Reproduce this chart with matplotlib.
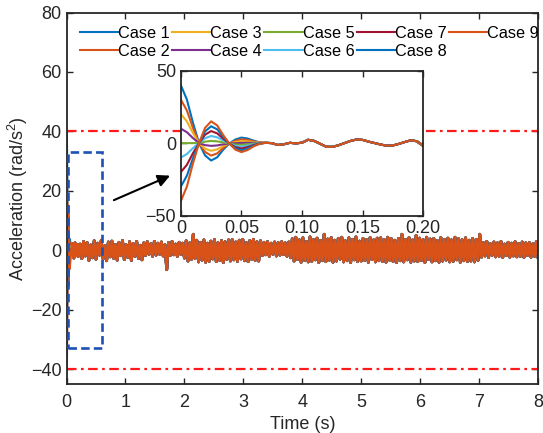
import numpy as np
import matplotlib
matplotlib.use("Agg")
import matplotlib.pyplot as plt
from matplotlib.patches import Rectangle

plt.rcParams['font.family'] = ['Liberation Sans', 'DejaVu Sans']
plt.rcParams['mathtext.fontset'] = 'custom'
plt.rcParams['mathtext.rm'] = 'Liberation Sans'
plt.rcParams['font.size'] = 13

# Cores padrão estilo MATLAB
cores = ['#0072BD', '#D95319', '#EDB120', '#7E2F8E', '#77AC30',
         '#4DBEEE', '#A2142F', '#0072BD', '#D95319']
nomes = ['Case %d' % i for i in range(1, 10)]

# Transitório (t = 0 ... 0.07 s, passo 0.005 s), um por caso
trans_1 = [40, 30, 14, 0, -8.5, -12, -9.8, -4.5, -0.3, 2.5, 3.8, 3.2, 1.7, 0.5, 0.2]
trans_2 = [30, 22.5, 10.5, 0, -6.1, -8.6, -7.1, -3.3, -0.3, 1.6, 2.6, 2.2, 1.2, 0.4, 0.2]
trans_3 = [20, 15, 7, 0, -3.8, -5.3, -4.3, -2, -0.3, 0.8, 1.3, 1.2, 0.7, 0.3, 0.2]
trans_4 = [10, 7.5, 3.5, 0, -1.4, -1.9, -1.6, -0.8, -0.3, -0.1, 0.1, 0.2, 0.2, 0.1, 0.2]
trans_5 = [0, 0, 0, 0, 1, 1.5, 1.2, 0.5, -0.3, -1, -1.2, -0.8, -0.3, 0, 0.2]
trans_6 = [-10, -7.5, -3.5, 0, 3.4, 4.9, 4, 1.8, -0.3, -1.9, -2.5, -1.8, -0.8, -0.1, 0.2]
trans_7 = [-20, -15, -7, 0, 5.8, 8.3, 6.7, 3, -0.3, -2.8, -3.7, -2.8, -1.3, -0.3, 0.2]
trans_8 = [-30, -22.5, -10.5, 0, 8.1, 11.6, 9.5, 4.3, -0.3, -3.6, -5, -3.8, -1.8, -0.4, 0.2]
trans_9 = [-40, -30, -14, 0, 10.5, 15, 12.2, 5.5, -0.3, -4.5, -6.2, -4.8, -2.3, -0.5, 0.2]
transitorios = [trans_1, trans_2, trans_3, trans_4, trans_5, trans_6, trans_7, trans_8, trans_9]

# Resposta comum depois da convergência (t = 0.075 ... 0.2 s, passo 0.005 s)
cauda = [0.0, -1.3, -0.8, 0.2, -0.2, 0.3, 2.3, 1.5, -0.5, -2.5, -2.6, -1.5, 0.0,
         1.5, 2.5, 2.2, 1.0, 0.0, -1.0, -1.8, -1.6, -0.5, 0.8, 2.0, 1.2, -2.0]

# Regime permanente (t = 0.23 ... 8.0 s, passo 0.03 s)
ruido = [2.1, -2.8, 3.0, -1.9, 2.6, -3.4, 1.8, -2.5, 3.2, -3.0, 2.4, -1.6, 3.4, -2.9, 1.5, -3.5, 2.8, -2.2,
         3.1, -2.7, 2.0, -3.3, 2.7, -1.8, 3.3, -3.1, 1.9, -2.4, 2.9, -3.4, 2.3, -2.0, 3.0, -2.8, 1.7, -3.2,
         2.5, -1.8, 2.9, -1.4, 2.2, -2.0, 3.0, -1.6, 2.4, -1.3, 2.8, -1.9, 1.9, -6.5, 2.6, -1.7, 3.0, -1.5,
         2.1, -2.0, 2.7, -1.4, 2.4,
         -2.6, 3.2, -3.6, 2.5, -3.0, 5.4, -2.8, 3.4, -3.9, 2.7, -3.3, 3.5, -4.0, 2.4, -3.7, 3.1, -2.9, 3.6,
         -3.8, 2.6, -3.4, 3.3, -4.1, 2.9, -3.1, 3.5, -3.6,
         3.6, -3.2, 2.8, -3.7, 3.4, -2.9, 3.7, -3.5, 2.6, -3.8, 3.3, -3.0, 3.7, -3.4, 2.9, -3.6, 3.2,
         -1.8, 2.7, -1.5, 2.9, -2.0, 2.4, -1.3, 2.8, -1.9, 2.6, -1.6, 2.9, -1.4, 2.5, -2.0, 2.8, -2.5,
         3.9, -3.6, 4.4, -3.1, 3.5, -4.0, 4.2, -3.4, 3.0, -3.9, 4.5, -3.7, 3.6, -3.2, 4.1, -4.1, 3.3, -3.5,
         5.4, -3.8, 3.8, -3.3, 4.3, -4.0, 3.4, -3.6, 4.0, -3.0, 4.4, -3.9, 3.2, -3.5, 4.2, -4.1, 3.7, -3.2,
         4.5, -3.8, 3.1, -3.6, 4.0, -3.4, 3.6, -4.0, 4.3, -3.1, 3.5, -3.9, 4.1, -3.5,
         4.2, -3.7, 3.6, -4.0, 4.4, -3.3, 3.9, -3.8, 3.4, -4.1, 4.0, -3.5, 5.4, -3.9, 3.7, -3.2, 4.3, -4.0,
         3.5, -3.6, 5.0, -3.8, 4.1, -3.4, 3.6, -4.1, 4.4, -3.1, 3.8, -3.9, 4.0, -3.5, 3.3, -4.0, 4.3, -3.6,
         3.7, -3.3, 4.1, -3.9, 3.5, -3.7, 4.4, -3.2, 3.9, -4.0, 3.6, -3.5, 4.2, -3.8, 3.4, -3.6, 4.0, -3.9,
         3.7, -3.4, 5.4,
         -2.3, 2.6, -1.9, 3.0, -2.4, 2.2, -1.7, 2.8, -2.2, 2.5, -2.0, 3.0, -2.4, 2.1, -1.8, 2.7, -2.3, 2.4,
         -1.9, 2.9, -2.2, 2.3, -2.0, 2.8, -2.4, 2.5, -1.7, 2.6, -2.3, 2.2, -2.0, 2.9, -2.4]

limite = 40
caixa_x = [0.02, 0.60]
caixa_y = [-33, 33]

t_ini = 0.005 * np.arange(len(trans_1) + len(cauda))
t_reg = 0.23 + 0.03 * np.arange(len(ruido))
t_total = np.concatenate([t_ini, t_reg])

fig = plt.figure(figsize=(5.43, 4.33), dpi=100)
ax = fig.add_axes([0.1225, 0.113, 0.8685, 0.858])
cor_eixo = '#262626'

for k in range(9):
    y = np.concatenate([transitorios[k], cauda, ruido])
    ax.plot(t_total, y, color=cores[k], lw=2.0, label=nomes[k])

ax.axhline(limite, color='#FF1A1A', lw=1.6, ls=(0, (4.3, 2, 1.2, 2)))
ax.axhline(-limite, color='#FF1A1A', lw=1.6, ls=(0, (4.3, 2, 1.2, 2)))

ax.add_patch(Rectangle((caixa_x[0], caixa_y[0]), caixa_x[1] - caixa_x[0], caixa_y[1] - caixa_y[0],
                       fill=False, ec='#1F50B4', lw=1.9, ls=(0, (3.2, 1.6)), zorder=5))
ax.annotate('', xy=(1.8, 25.5), xytext=(0.76, 16.5),
            arrowprops=dict(arrowstyle='-|>', color='k', lw=1.5, mutation_scale=18))

ax.set_xlim(0, 8)
ax.set_ylim(-45, 80)
ax.set_xticks(np.arange(0, 9, 1))
ax.set_yticks(np.arange(-40, 81, 20))
ax.set_xlabel('Time (s)', color=cor_eixo, labelpad=4)
ax.set_ylabel(r'Acceleration (rad/s$^2$)', color=cor_eixo, labelpad=1)
ax.tick_params(direction='in', top=True, right=True, length=4, width=1.0, colors=cor_eixo, labelsize=13)
ax.tick_params(axis='x', pad=7)
for s in ax.spines.values():
    s.set_linewidth(1.3)
    s.set_color(cor_eixo)

leg = ax.legend(ncol=5, loc='upper left', bbox_to_anchor=(0.028, 0.965), frameon=False,
                fontsize=11.7, handlelength=2.35, handletextpad=0.0, columnspacing=0.15,
                borderaxespad=0, borderpad=0, labelspacing=0.2)
for linha in leg.get_lines():
    linha.set_linewidth(1.5)

# Detalhe do transitório
axi = fig.add_axes([0.333, 0.502, 0.4465, 0.335])
for k in range(9):
    y = np.concatenate([transitorios[k], cauda])
    axi.plot(t_ini, y, color=cores[k], lw=1.5)
axi.set_xlim(0, 0.2)
axi.set_ylim(-50, 50)
axi.set_xticks([0, 0.05, 0.10, 0.15, 0.20])
axi.set_xticklabels(['0', '0.05', '0.10', '0.15', '0.20'])
axi.set_yticks([-50, 0, 50])
axi.tick_params(direction='in', top=True, right=True, length=4, width=1.0, colors=cor_eixo, labelsize=13)
for s in axi.spines.values():
    s.set_linewidth(1.3)
    s.set_color(cor_eixo)

fig.savefig('out.png', dpi=100)
